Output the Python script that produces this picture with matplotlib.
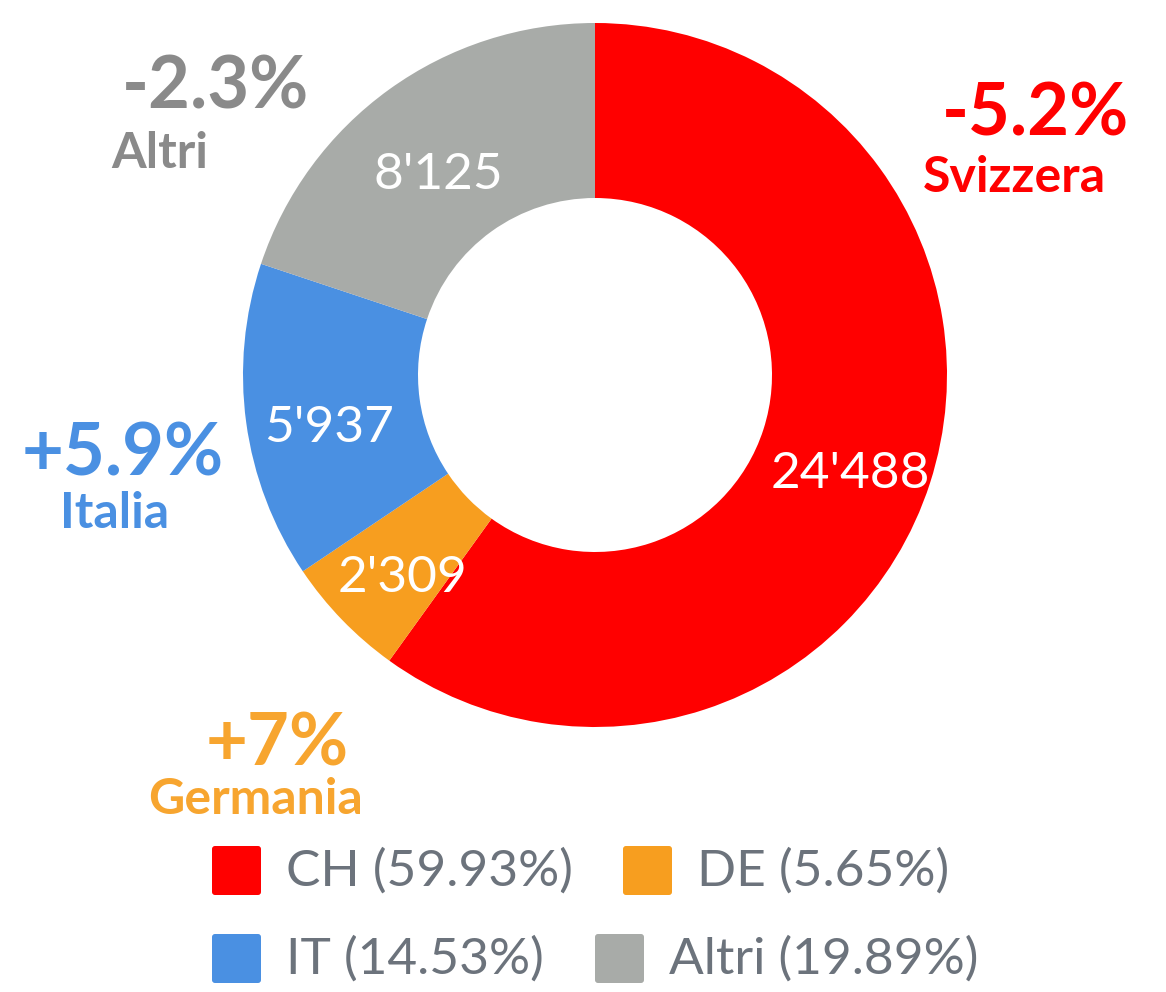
import numpy as np
import matplotlib.pyplot as plt
from matplotlib.patches import FancyBboxPatch

plt.rcParams['font.family'] = ['Lato', 'DejaVu Sans']

codes = ['CH', 'DE', 'IT', 'Altri']
values = [24488, 2309, 5937, 8125]
colors = ['#ff0000', '#f79e1f', '#4a90e2', '#a8aba8']
changes = ['-5.2%', '+7%', '+5.9%', '-2.3%']
names = ['Svizzera', 'Germania', 'Italia', 'Altri']

W, H = 1166, 992
fig = plt.figure(figsize=(W / 100, H / 100), dpi=100)
ax = fig.add_axes([0, 0, 1, 1])

cx, cy, R = 595, H - 375, 352
wedges, _ = ax.pie(values, colors=colors, startangle=90, counterclock=False,
                   radius=R, center=(cx, cy), wedgeprops=dict(width=175, linewidth=0),
                   frame=True)
ax.set_xlim(0, W)
ax.set_ylim(0, H)
ax.set_aspect('equal')
ax.axis('off')

total = sum(values)
fracs = [v / total for v in values]
cum = np.cumsum([0] + fracs[:-1])
for v, f, c0 in zip(values, fracs, cum):
    ang = np.deg2rad(90 - (c0 + f / 2) * 360)
    r = 268
    x = cx + r * np.cos(ang)
    y = cy + r * np.sin(ang) - 17
    lab = '{:,}'.format(v).replace(',', "'")
    ax.text(x, y, lab, color='white', fontsize=37, ha='center', va='center')

# annotations: (change position, name position) in pixels
chg_pos = [(1036, 115), (277, 745), (123, 455), (216, 88)]
name_pos = [(1014, 177), (256, 800), (115, 513), (160, 153)]
ann_colors = ['#ff0000', '#f7a52f', '#4a90e2', '#8a8a8a']
for ch, nm, p1, p2, col in zip(changes, names, chg_pos, name_pos, ann_colors):
    ax.text(p1[0], H - p1[1], ch, color=col, fontsize=52, fontweight='bold',
            ha='center', va='center')
    ax.text(p2[0], H - p2[1], nm, color=col, fontsize=36, fontweight='bold',
            ha='center', va='center')

# legend
leg_pos = [(210, 845), (621, 845), (210, 933), (593, 933)]
for code, f, col, (lx, ly) in zip(codes, fracs, colors, leg_pos):
    sq = FancyBboxPatch((lx + 2, H - ly - 52 + 2), 49, 49,
                        boxstyle='round,pad=0,rounding_size=3',
                        facecolor=col, edgecolor='none')
    ax.add_patch(sq)
    ax.text(lx + 76, H - ly - 26, '{} ({:.2f}%)'.format(code, f * 100),
            color='#6c737c', fontsize=37, ha='left', va='center')

plt.savefig('out.png', dpi=100)
plt.close()
